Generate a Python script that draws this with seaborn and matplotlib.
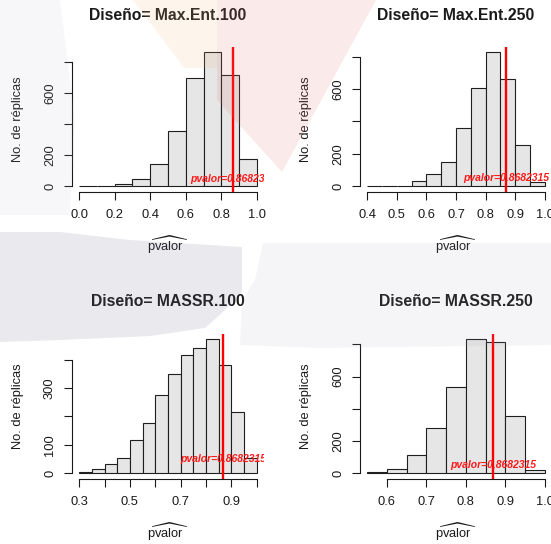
import numpy as np
import pandas as pd
import matplotlib
matplotlib.use("Agg")
import matplotlib.pyplot as plt
from matplotlib.patches import Polygon
import seaborn as sns

# ---------------- data ----------------
titles = ["Diseño= Max.Ent.100", "Diseño= Max.Ent.250",
          "Diseño= MASSR.100", "Diseño= MASSR.250"]

edges_me100 = [0.0, 0.1, 0.2, 0.3, 0.4, 0.5, 0.6, 0.7, 0.8, 0.9, 1.0]
counts_me100 = [3, 3, 15, 45, 144, 359, 701, 867, 716, 178]

edges_me250 = [0.40, 0.45, 0.50, 0.55, 0.60, 0.65, 0.70, 0.75, 0.80, 0.85, 0.90, 0.95, 1.00]
counts_me250 = [4, 1, 4, 35, 74, 150, 360, 608, 828, 664, 257, 27]

edges_ms100 = [0.30, 0.35, 0.40, 0.45, 0.50, 0.55, 0.60, 0.65, 0.70, 0.75, 0.80, 0.85, 0.90, 0.95, 1.00]
counts_ms100 = [4, 14, 34, 54, 116, 176, 274, 349, 416, 441, 472, 381, 215, 54]

edges_ms250 = [0.55, 0.60, 0.65, 0.70, 0.75, 0.80, 0.85, 0.90, 0.95, 1.00]
counts_ms250 = [8, 27, 116, 283, 536, 832, 811, 358, 19]

xticks_me100 = [0.0, 0.2, 0.4, 0.6, 0.8, 1.0]
xlabels_me100 = ["0.0", "0.2", "0.4", "0.6", "0.8", "1.0"]
xticks_me250 = [0.4, 0.5, 0.6, 0.7, 0.8, 0.9, 1.0]
xlabels_me250 = ["0.4", "0.5", "0.6", "0.7", "0.8", "0.9", "1.0"]
xticks_ms100 = [0.3, 0.4, 0.5, 0.6, 0.7, 0.8, 0.9, 1.0]
xlabels_ms100 = ["0.3", "", "0.5", "", "0.7", "", "0.9", ""]
xticks_ms250 = [0.6, 0.7, 0.8, 0.9, 1.0]
xlabels_ms250 = ["0.6", "0.7", "0.8", "0.9", "1.0"]

yticks_800 = [0, 200, 400, 600, 800]
ylabels_800 = ["0", "200", "", "600", ""]
yticks_400 = [0, 100, 200, 300, 400]
ylabels_400 = ["0", "100", "", "300", ""]

pvalor = 0.8682315
pvalor_text = "pvalor=0.8682315"
pvalor_text_y = 50
ylab = "No. de réplicas"
xlab = r"$\widehat{\mathrm{pvalor}}$"

panels = [
    (edges_me100, counts_me100, xticks_me100, xlabels_me100, yticks_800, ylabels_800),
    (edges_me250, counts_me250, xticks_me250, xlabels_me250, yticks_800, ylabels_800),
    (edges_ms100, counts_ms100, xticks_ms100, xlabels_ms100, yticks_400, ylabels_400),
    (edges_ms250, counts_ms250, xticks_ms250, xlabels_ms250, yticks_800, ylabels_800),
]

# ---------------- style ----------------
sns.set_style("white")
plt.rcParams["font.family"] = ["Liberation Sans", "DejaVu Sans"]
plt.rcParams["mathtext.fontset"] = "custom"
plt.rcParams["mathtext.rm"] = "Liberation Sans"
plt.rcParams["mathtext.it"] = "Liberation Sans:italic"
plt.rcParams["mathtext.bf"] = "Liberation Sans:bold"

W, H = 551, 544
fig = plt.figure(figsize=(W / 100, H / 100), dpi=100)
fig.patch.set_facecolor("white")

def fx(px):
    return px / W

def fy(py):
    return 1 - py / H

col_left = [72, 360]
col_w = 192
row_top = [46.7, 333.7]
row_h = 145

TEXT = "#1a1a1a"
for i, (edges, counts, xt, xl, yt, yl) in enumerate(panels):
    r, c = divmod(i, 2)
    x0 = col_left[c]
    y0 = row_top[r]
    ax = fig.add_axes([fx(x0), fy(y0 + row_h), col_w / W, row_h / H])
    ax.set_facecolor("none")
    e = np.array(edges)
    mids = (e[:-1] + e[1:]) / 2
    df = pd.DataFrame({"pvalor": mids, "n": counts})
    sns.histplot(data=df, x="pvalor", weights="n", bins=list(edges), stat="count", ax=ax,
                 color="#E6E6E6", edgecolor="#1f1f1f", linewidth=0.8, alpha=1)
    lo, hi = edges[0], edges[-1]
    span = hi - lo
    ax.set_xlim(lo - 0.04 * span, hi + 0.04 * span)
    ymax = max(counts)
    ax.set_ylim(-0.04 * ymax, 1.04 * ymax)
    ax.set_xlabel("")
    ax.set_ylabel("")
    ax.axvline(pvalor, color="#ff0000", lw=1.7, zorder=4)
    ax.text(pvalor, pvalor_text_y, pvalor_text, color="#ff1a1a", fontsize=7.5,
            fontweight="bold", style="italic", ha="center", va="center",
            clip_on=True, zorder=5)
    ax.set_xticks(xt)
    ax.set_xticklabels(xl)
    ax.set_yticks(yt)
    ax.set_yticklabels(yl, rotation=90, va="center")
    for s in ["top", "right"]:
        ax.spines[s].set_visible(False)
    for s in ["left", "bottom"]:
        ax.spines[s].set_visible(True)
        ax.spines[s].set_color(TEXT)
        ax.spines[s].set_linewidth(0.8)
    ax.spines["left"].set_bounds(yt[0], yt[-1])
    ax.spines["bottom"].set_bounds(xt[0], xt[-1])
    ax.tick_params(axis="both", direction="out", length=5.5, width=0.8,
                   color=TEXT, labelcolor=TEXT, labelsize=9.3)
    ax.tick_params(axis="y", pad=6, left=True)
    ax.tick_params(axis="x", pad=7, bottom=True)
    ax.grid(False)

    cx = x0 + col_w / 2
    fig.text(fx(cx), fy(y0 - 31.7), titles[i], ha="center", va="center",
             fontsize=11.3, fontweight="bold", color=TEXT)
    fig.text(fx(x0 - 54), fy(y0 + row_h / 2), ylab, rotation=90,
             ha="center", va="center", fontsize=9.3, color=TEXT)
    fig.text(fx(cx), fy(y0 + 198), xlab, ha="center", va="center",
             fontsize=9.3, color=TEXT)

# ---------------- faint background watermark ----------------
def wm(points, target, alpha=0.15):
    t = np.array(matplotlib.colors.to_rgb(target))
    col = np.clip(1 - (1 - t) / alpha, 0, 1)
    poly = Polygon([(fx(x), fy(y)) for x, y in points], closed=True,
                   transform=fig.transFigure, facecolor=col, edgecolor="none",
                   alpha=alpha, zorder=20)
    fig.add_artist(poly)

wm([(217, 0), (376, 0), (282, 172), (217, 100)], "#FAEAEA")
wm([(133, 0), (217, 0), (217, 68), (184, 68)], "#FDF5EB")
wm([(0, 232), (60, 232), (130, 240), (242, 247), (242, 292), (225, 310),
    (205, 328), (150, 336), (60, 340), (0, 342)], "#E9E9EE")
wm([(263, 243), (551, 243), (551, 345), (320, 348), (240, 345), (242, 300),
    (255, 280)], "#F6F6F9", alpha=0.1)
wm([(0, 0), (60, 0), (75, 120), (70, 215), (0, 215)], "#F8F8FA", alpha=0.1)

fig.savefig("out.png", dpi=100)
